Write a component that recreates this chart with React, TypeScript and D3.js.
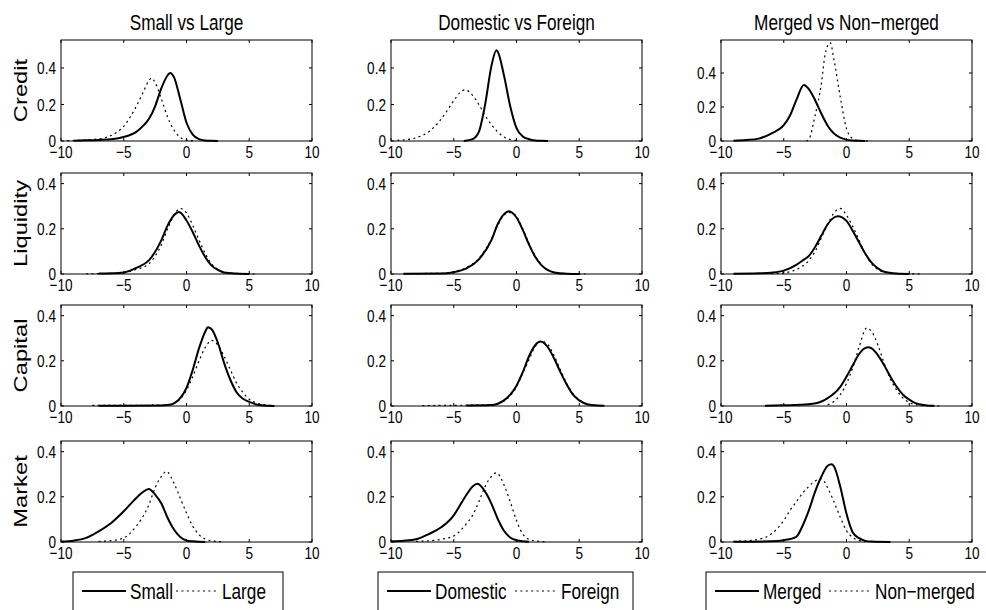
import React from 'react'
import * as d3 from 'd3'

// row / column labels
const rowLabels = ['Credit', 'Liquidity', 'Capital', 'Market']
const colTitles = ['Small vs Large', 'Domestic vs Foreign', 'Merged vs Non\u2212merged']
const seriesNames = [['Small', 'Large'], ['Domestic', 'Foreign'], ['Merged', 'Non\u2212merged']]
const xTicks = [-10, -5, 0, 5, 10]
const yTicks = [0, 0.2, 0.4]
// y-limits per panel (row x column)
const yMaxes = [[0.553, 0.553, 0.594], [0.447, 0.447, 0.447], [0.447, 0.447, 0.447], [0.447, 0.447, 0.447]]

// kernel density estimates, [x, density]
const creditSmall = [[-9, 0.002], [-8, 0.004], [-7, 0.006], [-6, 0.01], [-5, 0.022], [-4, 0.05], [-3.5, 0.08], [-3, 0.12], [-2.5, 0.19], [-2, 0.29], [-1.5, 0.36], [-1.3, 0.373], [-1, 0.35], [-0.5, 0.23], [0, 0.1], [0.5, 0.035], [1, 0.01], [1.5, 0.003], [2, 0.001], [2.5, 0]]
const creditLarge = [[-9.5, 0.002], [-8.5, 0.004], [-7.5, 0.008], [-6.5, 0.018], [-6, 0.03], [-5.5, 0.05], [-5, 0.08], [-4.5, 0.13], [-4, 0.19], [-3.5, 0.26], [-3, 0.33], [-2.8, 0.345], [-2.5, 0.32], [-2, 0.23], [-1.5, 0.13], [-1, 0.06], [-0.5, 0.02], [0, 0.005], [0.5, 0.001]]
const creditDomestic = [[-4.2, 0], [-3.5, 0.01], [-3, 0.05], [-2.5, 0.2], [-2, 0.41], [-1.6, 0.497], [-1.5, 0.49], [-1, 0.36], [-0.5, 0.19], [0, 0.07], [0.5, 0.025], [1, 0.01], [1.5, 0.003], [2, 0.001], [2.5, 0]]
const creditForeign = [[-9.5, 0.004], [-8.5, 0.01], [-8, 0.018], [-7, 0.05], [-6, 0.12], [-5, 0.22], [-4.5, 0.265], [-4.1, 0.28], [-3.5, 0.25], [-3, 0.2], [-2.5, 0.14], [-2, 0.09], [-1.5, 0.05], [-1, 0.022], [-0.5, 0.008], [0, 0.003]]
const creditMerged = [[-9, 0.002], [-8, 0.006], [-7, 0.014], [-6, 0.044], [-5, 0.093], [-4.5, 0.15], [-4, 0.24], [-3.4, 0.33], [-3, 0.305], [-2.5, 0.24], [-2, 0.16], [-1.5, 0.09], [-1, 0.044], [-0.5, 0.02], [0, 0.008], [0.5, 0.003], [1, 0.001], [1.5, 0]]
const creditNonMerged = [[-3.2, 0], [-3, 0.01], [-2.5, 0.15], [-2, 0.34], [-1.7, 0.51], [-1.3, 0.578], [-1, 0.48], [-0.5, 0.26], [0, 0.073], [0.5, 0.014], [1, 0.003], [2, 0]]

const liquiditySmall = [[-7, 0.002], [-6, 0.003], [-5, 0.007], [-4, 0.027], [-3, 0.06], [-2, 0.15], [-1.5, 0.215], [-1, 0.26], [-0.6, 0.274], [0, 0.237], [0.5, 0.185], [1, 0.126], [1.5, 0.074], [2, 0.037], [2.5, 0.018], [3, 0.007], [4, 0.002], [5, 0]]
const liquidityLarge = [[-8, 0.001], [-6, 0.002], [-5, 0.006], [-4, 0.02], [-3, 0.045], [-2, 0.13], [-1.5, 0.2], [-1, 0.26], [-0.5, 0.29], [0, 0.27], [0.5, 0.215], [1, 0.15], [1.5, 0.09], [2, 0.045], [2.5, 0.02], [3, 0.008], [4, 0.002], [5.5, 0]]
const liquidityDomestic = [[-9, 0.001], [-6, 0.002], [-5, 0.008], [-4, 0.025], [-3, 0.065], [-2, 0.15], [-1.5, 0.22], [-1, 0.265], [-0.6, 0.278], [0, 0.25], [0.5, 0.195], [1, 0.13], [1.5, 0.075], [2, 0.038], [2.5, 0.017], [3, 0.007], [4, 0.001], [5, 0]]
const liquidityForeign = [[-9, 0.002], [-6, 0.003], [-5, 0.01], [-4, 0.028], [-3, 0.07], [-2, 0.155], [-1.5, 0.215], [-1, 0.26], [-0.5, 0.272], [0, 0.255], [0.5, 0.2], [1, 0.135], [1.5, 0.08], [2, 0.04], [2.5, 0.018], [3, 0.008], [4, 0.002], [5.5, 0]]
const liquidityMerged = [[-9, 0.001], [-7, 0.003], [-6, 0.006], [-5, 0.015], [-4, 0.04], [-3.5, 0.06], [-3, 0.08], [-2.5, 0.12], [-2, 0.17], [-1.5, 0.22], [-1, 0.25], [-0.7, 0.256], [0, 0.235], [0.5, 0.19], [1, 0.14], [1.5, 0.09], [2, 0.05], [2.5, 0.025], [3, 0.01], [4, 0.002], [5, 0]]
const liquidityNonMerged = [[-6, 0.002], [-5, 0.005], [-4, 0.02], [-3, 0.06], [-2.5, 0.1], [-2, 0.16], [-1.5, 0.22], [-1, 0.27], [-0.5, 0.29], [0, 0.26], [0.5, 0.21], [1, 0.15], [1.5, 0.09], [2, 0.045], [2.5, 0.02], [3, 0.008], [4, 0.002], [6, 0]]

const capitalSmall = [[-7, 0.001], [-2, 0.002], [-1.5, 0.004], [-1, 0.012], [-0.5, 0.035], [0, 0.08], [0.5, 0.16], [1, 0.256], [1.5, 0.33], [1.7, 0.348], [2, 0.34], [2.5, 0.28], [3, 0.19], [3.5, 0.115], [4, 0.06], [4.5, 0.032], [5, 0.018], [5.5, 0.008], [6, 0.003], [7, 0]]
const capitalLarge = [[-7.5, 0.003], [-5, 0.003], [-2, 0.004], [-1, 0.012], [0, 0.07], [0.5, 0.13], [1, 0.2], [1.5, 0.26], [2, 0.29], [2.5, 0.27], [3, 0.22], [3.5, 0.16], [4, 0.1], [4.5, 0.06], [5, 0.03], [5.5, 0.015], [6, 0.007], [7, 0.002]]
const capitalDomestic = [[-4, 0.002], [-2, 0.004], [-1.5, 0.01], [-1, 0.025], [-0.5, 0.05], [0, 0.09], [0.5, 0.15], [1, 0.22], [1.5, 0.27], [1.9, 0.285], [2.5, 0.26], [3, 0.21], [3.5, 0.15], [4, 0.095], [4.5, 0.05], [5, 0.025], [5.5, 0.01], [6, 0.004], [7, 0.001]]
const capitalForeign = [[-7.5, 0.002], [-5, 0.003], [-2, 0.005], [-1, 0.022], [0, 0.085], [0.5, 0.145], [1, 0.205], [1.5, 0.265], [2, 0.287], [2.5, 0.272], [3, 0.222], [3.5, 0.16], [4, 0.1], [4.5, 0.055], [5, 0.027], [5.5, 0.012], [6, 0.005], [7, 0.001]]
const capitalMerged = [[-6.5, 0.001], [-5, 0.003], [-3, 0.008], [-2, 0.02], [-1.5, 0.035], [-1, 0.055], [-0.5, 0.085], [0, 0.13], [0.5, 0.18], [1, 0.23], [1.7, 0.26], [2, 0.255], [2.5, 0.225], [3, 0.18], [3.5, 0.13], [4, 0.085], [4.5, 0.05], [5, 0.028], [5.5, 0.013], [6, 0.006], [7, 0.001]]
const capitalNonMerged = [[-1.5, 0.005], [-1, 0.02], [-0.5, 0.05], [0, 0.1], [0.5, 0.17], [1, 0.26], [1.6, 0.345], [2, 0.33], [2.5, 0.27], [3, 0.19], [3.5, 0.12], [4, 0.07], [4.5, 0.035], [5, 0.015], [5.5, 0.006], [6.5, 0.001], [7.5, 0]]

const marketSmall = [[-10, 0.002], [-9, 0.006], [-8, 0.018], [-7, 0.047], [-6, 0.084], [-5, 0.136], [-4, 0.195], [-3.5, 0.22], [-3, 0.235], [-2.5, 0.21], [-2, 0.17], [-1.5, 0.106], [-1, 0.055], [-0.5, 0.022], [0, 0.007], [0.5, 0.003], [1, 0.001], [1.5, 0]]
const marketLarge = [[-7, 0.003], [-6, 0.006], [-5, 0.018], [-4, 0.07], [-3.5, 0.11], [-3, 0.165], [-2.5, 0.24], [-2, 0.29], [-1.6, 0.313], [-1, 0.26], [-0.5, 0.195], [0, 0.128], [0.5, 0.07], [1, 0.032], [1.5, 0.013], [2, 0.005], [3, 0.001]]
const marketDomestic = [[-10, 0.003], [-9, 0.006], [-8, 0.012], [-7, 0.035], [-6, 0.065], [-5, 0.118], [-4.5, 0.163], [-4, 0.208], [-3.5, 0.246], [-3.1, 0.258], [-2.5, 0.223], [-2, 0.17], [-1.5, 0.103], [-1, 0.05], [-0.5, 0.02], [0, 0.008], [0.5, 0.003], [1, 0.001]]
const marketForeign = [[-8, 0.003], [-7, 0.005], [-6, 0.012], [-5, 0.027], [-4, 0.08], [-3.5, 0.118], [-3, 0.178], [-2.5, 0.246], [-2, 0.29], [-1.6, 0.306], [-1, 0.253], [-0.5, 0.178], [0, 0.095], [0.5, 0.035], [1, 0.012], [1.5, 0.005], [2.5, 0.001]]
const marketMerged = [[-9, 0.001], [-6, 0.003], [-5, 0.008], [-4, 0.023], [-3.5, 0.072], [-3, 0.14], [-2.5, 0.223], [-2, 0.29], [-1.5, 0.337], [-1.2, 0.344], [-1, 0.335], [-0.5, 0.246], [0, 0.125], [0.5, 0.042], [1, 0.017], [1.5, 0.005], [2, 0.002], [3.5, 0]]
const marketNonMerged = [[-9, 0.003], [-8, 0.005], [-7, 0.012], [-6, 0.035], [-5, 0.095], [-4.5, 0.14], [-4, 0.178], [-3.5, 0.216], [-3, 0.246], [-2.5, 0.27], [-2, 0.28], [-1.5, 0.24], [-1, 0.178], [-0.5, 0.11], [0, 0.05], [0.5, 0.02], [1, 0.007], [1.5, 0.002]]

// panels[row][col] = [solid, dotted]
const panels = [
  [[creditSmall, creditLarge], [creditDomestic, creditForeign], [creditMerged, creditNonMerged]],
  [[liquiditySmall, liquidityLarge], [liquidityDomestic, liquidityForeign], [liquidityMerged, liquidityNonMerged]],
  [[capitalSmall, capitalLarge], [capitalDomestic, capitalForeign], [capitalMerged, capitalNonMerged]],
  [[marketSmall, marketLarge], [marketDomestic, marketForeign], [marketMerged, marketNonMerged]],
]

const W = 986
const H = 610
const colLeft = [61, 391, 721]
const rowTop = [40, 173, 305, 441]
const pw = 251
const ph = 101
const font = "'Liberation Sans', Arial, Helvetica, sans-serif"
const DOT = '2,3.4'
// the original figure is squeezed horizontally, so text is drawn narrow
const SX = 0.8

const fmtX = (d: number) => (d < 0 ? '\u2212' + Math.abs(d) : String(d))
const fmtY = (d: number) => (d === 0 ? '0' : d.toFixed(1))

function T({ x, y, size, anchor = 'start', mid = false, rot = false, children }:
  { x: number; y: number; size: number; anchor?: string; mid?: boolean; rot?: boolean; children: React.ReactNode }) {
  const tf = rot
    ? `translate(${x},${y}) rotate(-90) scale(${1 / SX},1)`
    : `translate(${x},${y}) scale(${SX},1)`
  return (
    <text transform={tf} fontSize={size} textAnchor={anchor} dy={mid ? '0.36em' : undefined}>{children}</text>
  )
}

function Panel({ r, c }: { r: number; c: number }) {
  const x0 = colLeft[c]
  const y0 = rowTop[r]
  const x = d3.scaleLinear().domain([-10, 10]).range([x0, x0 + pw])
  const y = d3.scaleLinear().domain([0, yMaxes[r][c]]).range([y0 + ph, y0])
  const line = d3.line<number[]>()
    .x(d => x(d[0]))
    .y(d => y(d[1]))
    .curve(d3.curveMonotoneX)
  const [solid, dotted] = panels[r][c]
  const tl = 3
  return (
    <g>
      <path d={line(dotted) || ''} fill="none" stroke="#000" strokeWidth={1.2} strokeDasharray={DOT} />
      <path d={line(solid) || ''} fill="none" stroke="#000" strokeWidth={2} />
      <rect x={x0} y={y0} width={pw} height={ph} fill="none" stroke="#000" strokeWidth={1} />
      {xTicks.map(t => (
        <g key={'x' + t}>
          <line x1={x(t)} x2={x(t)} y1={y0 + ph} y2={y0 + ph - tl} stroke="#000" />
          <line x1={x(t)} x2={x(t)} y1={y0} y2={y0 + tl} stroke="#000" />
          <T x={x(t)} y={y0 + ph + 16.5} size={17} anchor="middle">{fmtX(t)}</T>
        </g>
      ))}
      {yTicks.map(t => (
        <g key={'y' + t}>
          <line x1={x0} x2={x0 + tl} y1={y(t)} y2={y(t)} stroke="#000" />
          <line x1={x0 + pw} x2={x0 + pw - tl} y1={y(t)} y2={y(t)} stroke="#000" />
          <T x={x0 - 5} y={y(t)} size={17} anchor="end" mid>{fmtY(t)}</T>
        </g>
      ))}
      {r === 0 && (
        <T x={x0 + pw / 2} y={y0 - 10} size={21.5} anchor="middle">{colTitles[c]}</T>
      )}
      {c === 0 && (
        <T x={x0 - 34} y={y0 + ph / 2} size={19} anchor="middle" rot>{rowLabels[r]}</T>
      )}
    </g>
  )
}

// legend boxes under each column
const legendBoxes = [
  { left: 73, right: 283, dotAt: 176 },
  { left: 378, right: 633, dotAt: 515 },
  { left: 706, right: 990, dotAt: 829 },
]

function Legend({ c }: { c: number }) {
  const b = legendBoxes[c]
  const ly = 591
  return (
    <g>
      <rect x={b.left} y={572} width={b.right - b.left} height={44} fill="#fff" stroke="#000" strokeWidth={1} />
      <line x1={b.left + 9} x2={b.left + 53} y1={ly} y2={ly} stroke="#000" strokeWidth={2} />
      <T x={b.left + 57} y={ly} size={21.5} mid>{seriesNames[c][0]}</T>
      <line x1={b.dotAt} x2={b.dotAt + 42} y1={ly} y2={ly} stroke="#000" strokeWidth={1.2} strokeDasharray={DOT} />
      <T x={b.dotAt + 46} y={ly} size={21.5} mid>{seriesNames[c][1]}</T>
    </g>
  )
}

export default function App() {
  return (
    <svg width={W} height={H} style={{ position: 'absolute', left: 0, top: 0, background: '#fff' }}
      fontFamily={font} fill="#000">
      {rowLabels.map((_, r) => colTitles.map((__, c) => <Panel key={r + '-' + c} r={r} c={c} />))}
      {colTitles.map((_, c) => <Legend key={c} c={c} />)}
    </svg>
  )
}
